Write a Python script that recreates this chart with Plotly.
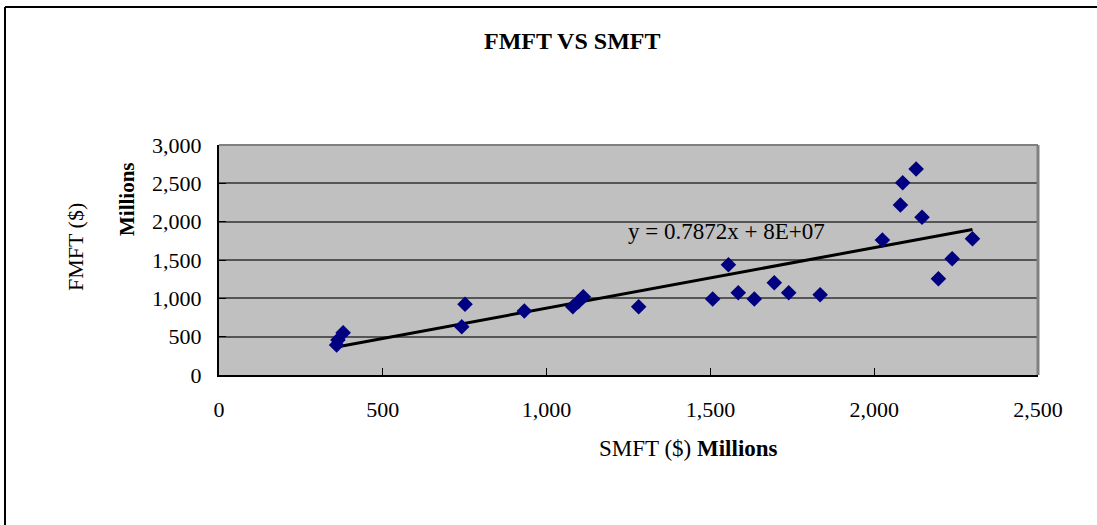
import numpy as np
import plotly.graph_objects as go

# Data (in $ Millions)
smft = [359, 363, 379, 741, 751, 932, 1080, 1097, 1112, 1281, 1507, 1555, 1585,
        1634, 1695, 1739, 1835, 2025, 2080, 2087, 2128, 2146, 2196, 2238, 2300]
fmft = [391, 456, 552, 630, 922, 835, 891, 956, 1021, 891, 991, 1438, 1073,
        991, 1204, 1073, 1047, 1760, 2217, 2508, 2687, 2057, 1256, 1517, 1778]

x_ticks = [0, 500, 1000, 1500, 2000, 2500]
y_ticks = [0, 500, 1000, 1500, 2000, 2500, 3000]

slope, intercept = np.polyfit(smft, fmft, 1)
x_line = np.array([min(smft), max(smft)])
y_line = slope * x_line + intercept

FONT = "Liberation Serif, Times New Roman, serif"

fig = go.Figure()
fig.add_trace(go.Scatter(
    x=x_line, y=y_line, mode="lines",
    line=dict(color="black", width=3), hoverinfo="skip", showlegend=False))
fig.add_trace(go.Scatter(
    x=smft, y=fmft, mode="markers",
    marker=dict(symbol="diamond", size=12, color="#000080"),
    showlegend=False))

L, R, T, B = 219, 1038, 145, 375
W, H = 1097, 525

def px(x):
    return (x - L) / (R - L)

def py(y):
    return (B - y) / (B - T)

def ann(text, x, y, size, angle=0):
    return dict(text=text, xref="paper", yref="paper", x=px(x), y=py(y),
                xanchor="center", yanchor="middle", textangle=angle,
                showarrow=False, font=dict(size=size))

fig.update_layout(
    width=W, height=H,
    margin=dict(l=L, r=W - R, t=T, b=H - B, autoexpand=False),
    paper_bgcolor="white",
    plot_bgcolor="#C0C0C0",
    font=dict(family=FONT, size=22, color="black"),
    xaxis=dict(
        range=[0, 2500], tickvals=x_ticks, ticktext=[f"{v:,}" for v in x_ticks],
        showgrid=False, zeroline=False,
        showline=True, linecolor="black", linewidth=2,
        ticks="inside", ticklen=7, tickcolor="black", tickwidth=1,
        ticklabelstandoff=14,
    ),
    yaxis=dict(
        range=[0, 3000], tickvals=y_ticks, ticktext=[f"{v:,}" for v in y_ticks],
        showgrid=True, gridcolor="#555555", gridwidth=1.5, zeroline=False,
        showline=True, linecolor="black", linewidth=2,
        ticks="inside", ticklen=7, tickcolor="black", tickwidth=1,
        ticklabelstandoff=11,
    ),
    shapes=[
        # plot area grey border (top & right)
        dict(type="line", xref="paper", yref="paper", x0=0, x1=1, y0=1, y1=1,
             line=dict(color="#808080", width=2)),
        dict(type="line", xref="paper", yref="paper", x0=1, x1=1, y0=0, y1=1,
             line=dict(color="#808080", width=3)),
        # outer chart border (top & left)
        dict(type="line", xref="paper", yref="paper", x0=px(5), x1=px(1120),
             y0=py(7), y1=py(7), line=dict(color="black", width=2)),
        dict(type="line", xref="paper", yref="paper", x0=px(5), x1=px(5),
             y0=py(7), y1=py(560), line=dict(color="black", width=2)),
    ],
    annotations=[
        ann("<b>FMFT VS SMFT</b>", 572, 41, 24),
        ann("FMFT ($)", 75, 247, 22, -90),
        ann("<b>Millions</b>", 127, 199, 21, -90),
        ann("SMFT ($) <b>Millions</b>", 688, 448, 23),
        ann("y = 0.7872x + 8E+07", 726, 231, 23),
    ],
)

fig.write_html("out.html",
               config={"displayModeBar": False},
               post_script="document.body.style.margin='0';document.body.style.overflow='hidden';")
